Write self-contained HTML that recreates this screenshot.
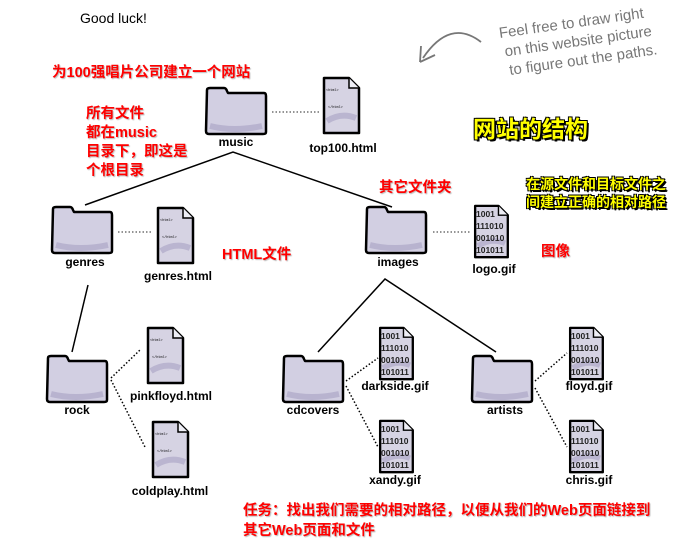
<!DOCTYPE html>
<html><head><meta charset="utf-8"><style>
body{margin:0;width:681px;height:545px;background:#fff;position:relative;overflow:hidden;font-family:"Liberation Sans","Noto Sans CJK SC",sans-serif}
.t{position:absolute;white-space:nowrap}
.red{color:#f00;font-weight:bold;font-size:14.5px;text-shadow:1px 1px 1px #bbb}
.yel{color:#ff0;font-weight:bold;text-shadow:1px 1px 0 #000,-1px -1px 0 #000,1px -1px 0 #000,-1px 1px 0 #000,2px 2px 0 #000}
.lbl{position:absolute;font-weight:bold;font-size:12px;color:#000;transform:translateX(-50%);white-space:nowrap}
</style></head><body>
<svg width="681" height="545" style="position:absolute;left:0;top:0">
<defs>
<symbol id="fold" viewBox="0 0 64 50" overflow="visible">
<path d="M3,4 Q3,2 6,2 L20,2 Q22,2 23,5 L24,7 L60,7 Q62,7 62,10 L62,46 Q62,48 59,48 L5,48 Q2,48 2,45 Z" fill="#d2cfe2" stroke="#000" stroke-width="2.5" stroke-linejoin="round"/>
<path d="M6,40 Q30,46 58,40" stroke="#b8b3cf" stroke-width="6" fill="none"/>
</symbol>
<symbol id="doc" viewBox="0 0 40 60" overflow="visible">
<path d="M3,2 L28,2 L38,12 L38,57 L3,57 Z" fill="#d6d3e3" stroke="#000" stroke-width="2.5" stroke-linejoin="round"/>
<path d="M28,2 L28,12 L38,12" fill="#eeeef5" stroke="#000" stroke-width="1.5"/>
<path d="M6,45 Q20,36 35,42" stroke="#bab5d0" stroke-width="6" fill="none"/>
</symbol>
</defs>
<g stroke="#000" stroke-width="1.5" fill="none">
<path d="M85,205 L233,152 L392,207"/>
<path d="M318,352 L385,279 L496,352"/>
<path d="M88,285 L72,352"/>
</g>
<g stroke="#555" stroke-width="1.3" fill="none" stroke-dasharray="1.5,2">
<path d="M272,112 L320,112"/><path d="M118,232 L152,232"/><path d="M433,232 L470,232"/>
</g>
<g stroke="#000" stroke-width="1.5" fill="none" stroke-dasharray="1.5,2">
<path d="M111,378 L140,350"/><path d="M111,380 L145,447"/>
<path d="M346,381 L378,358"/><path d="M346,386 L378,447"/>
<path d="M535,381 L567,353"/><path d="M535,388 L567,447"/>
</g>
<use href="#fold" x="204" y="86" width="64" height="50"/>
<use href="#fold" x="50" y="205" width="64" height="50"/>
<use href="#fold" x="364" y="205" width="64" height="50"/>
<use href="#fold" x="45" y="354" width="64" height="50"/>
<use href="#fold" x="281" y="354" width="64" height="50"/>
<use href="#fold" x="470" y="354" width="64" height="50"/>
<use href="#doc" x="321" y="76" width="40" height="60"/>
<use href="#doc" x="155" y="206" width="40" height="60"/>
<use href="#doc" x="145" y="326" width="40" height="60"/>
<use href="#doc" x="150" y="420" width="40" height="60"/>
<use href="#doc" x="472" y="204" width="38" height="56"/>
<use href="#doc" x="377" y="326" width="38" height="56"/>
<use href="#doc" x="377" y="419" width="38" height="56"/>
<use href="#doc" x="567" y="326" width="38" height="56"/>
<use href="#doc" x="567" y="419" width="38" height="56"/>
<g font-family="Liberation Mono,monospace" font-size="3.5" fill="#000">
<text x="326" y="91">&lt;html&gt;</text><text x="328" y="108">&lt;/html&gt;</text>
<text x="160" y="221">&lt;html&gt;</text><text x="162" y="238">&lt;/html&gt;</text>
<text x="150" y="341">&lt;html&gt;</text><text x="152" y="358">&lt;/html&gt;</text>
<text x="155" y="435">&lt;html&gt;</text><text x="157" y="452">&lt;/html&gt;</text>
</g>
<g font-family="Liberation Sans,sans-serif" font-size="8.5" font-weight="bold" fill="#222">
<text x="476" y="217">1001</text><text x="476" y="229">111010</text><text x="476" y="241">001010</text><text x="476" y="253">101011</text>
<text x="381" y="339">1001</text><text x="381" y="351">111010</text><text x="381" y="363">001010</text><text x="381" y="375">101011</text>
<text x="381" y="432">1001</text><text x="381" y="444">111010</text><text x="381" y="456">001010</text><text x="381" y="468">101011</text>
<text x="571" y="339">1001</text><text x="571" y="351">111010</text><text x="571" y="363">001010</text><text x="571" y="375">101011</text>
<text x="571" y="432">1001</text><text x="571" y="444">111010</text><text x="571" y="456">001010</text><text x="571" y="468">101011</text>
</g>
<path d="M481,42 Q450,18 423,58 M420,62 L421,46 M420,62 L435,55" stroke="#777" stroke-width="1.8" fill="none"/>
<g font-family="Liberation Sans,sans-serif" font-size="15" fill="#777" transform="rotate(-8 500 40)">
<text x="500" y="38">Feel free to draw right</text>
<text x="503" y="57">on this website picture</text>
<text x="505" y="76">to figure out the paths.</text>
</g>
</svg>
<div class="t" style="left:80px;top:10px;font-size:14px">Good luck!</div>
<div class="t red" style="left:52px;top:61px">为100强唱片公司建立一个网站</div>
<div class="t red" style="left:86px;top:105px;line-height:19px">所有文件<br>都在music<br>目录下，即这是<br>个根目录</div>
<div class="t red" style="left:379px;top:176px">其它文件夹</div>
<div class="t red" style="left:222px;top:243px">HTML文件</div>
<div class="t red" style="left:541px;top:240px">图像</div>
<div class="t red" style="left:243px;top:501px;line-height:20px">任务：找出我们需要的相对路径，以便从我们的Web页面链接到<br>其它Web页面和文件</div>
<div class="t yel" style="left:473px;top:110px;font-size:23px">网站的结构</div>
<div class="t yel" style="left:526px;top:175px;font-size:14px;line-height:18px">在源文件和目标文件之<br>间建立正确的相对路径</div>
<div class="lbl" style="left:236px;top:135px">music</div>
<div class="lbl" style="left:343px;top:141px">top100.html</div>
<div class="lbl" style="left:85px;top:255px">genres</div>
<div class="lbl" style="left:178px;top:269px">genres.html</div>
<div class="lbl" style="left:398px;top:255px">images</div>
<div class="lbl" style="left:494px;top:262px">logo.gif</div>
<div class="lbl" style="left:77px;top:403px">rock</div>
<div class="lbl" style="left:171px;top:389px">pinkfloyd.html</div>
<div class="lbl" style="left:170px;top:484px">coldplay.html</div>
<div class="lbl" style="left:313px;top:403px">cdcovers</div>
<div class="lbl" style="left:395px;top:379px">darkside.gif</div>
<div class="lbl" style="left:395px;top:473px">xandy.gif</div>
<div class="lbl" style="left:505px;top:403px">artists</div>
<div class="lbl" style="left:589px;top:379px">floyd.gif</div>
<div class="lbl" style="left:589px;top:473px">chris.gif</div>
</body></html>
